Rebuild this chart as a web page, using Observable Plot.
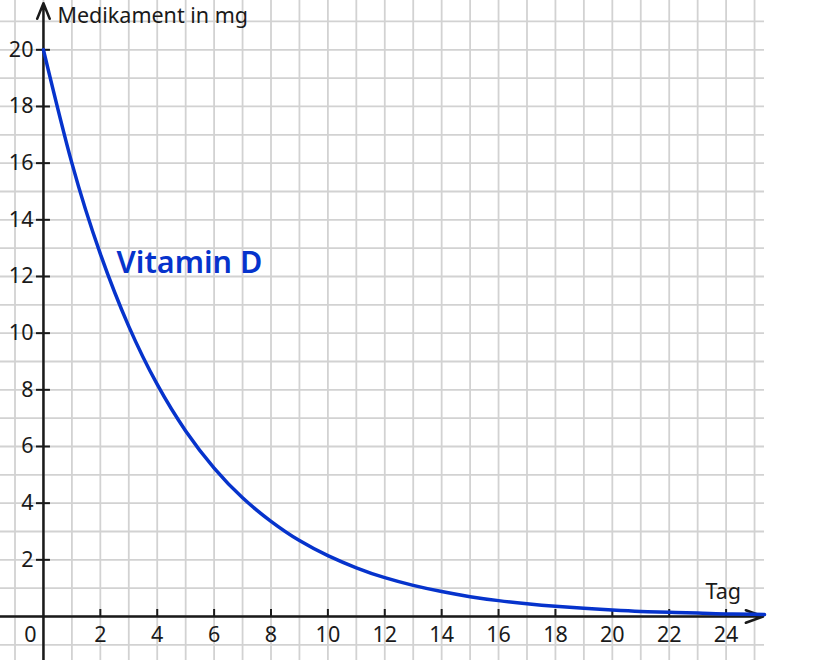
<!DOCTYPE html>
<html><head><meta charset="utf-8">
<script src="https://cdn.jsdelivr.net/npm/d3@7"></script>
<script src="https://cdn.jsdelivr.net/npm/@observablehq/plot@0.6"></script>
<style>body{margin:0;background:#fff}#chart svg{display:block}</style>
</head><body><div id="chart"></div>
<script>
// Data
const days = [0,1,2,3,4,5,6,7,8,9,10,11,12,13,14,15,16,17,18,19,20,21,22,23,24,25,25.35];
const mg   = [20,16,12.8,10.24,8.19,6.55,5.24,4.19,3.36,2.68,2.15,1.72,1.37,1.10,0.88,0.70,0.56,0.45,0.36,0.29,0.23,0.18,0.15,0.12,0.09,0.08,0.07];
const seriesName = "Vitamin D";
const xTickValues = [2,4,6,8,10,12,14,16,18,20,22,24];
const yTickValues = [2,4,6,8,10,12,14,16,18,20];
const gridXValues = [-1,0,1,2,3,4,5,6,7,8,9,10,11,12,13,14,15,16,17,18,19,20,21,22,23,24,25];
const gridYValues = [-1,0,1,2,3,4,5,6,7,8,9,10,11,12,13,14,15,16,17,18,19,20,21];
const xTitle = "Tag";
const yTitle = "Medikament in mg";

const curve = days.map((d, i) => ({day: d, mg: mg[i]}));
const ink = "#1a1a1a";
const blue = "#0633cc";

const chart = Plot.plot({
  width: 840, height: 660,
  marginTop: 0, marginBottom: 0, marginLeft: 0, marginRight: 76,
  x: {domain: [-1.51, 25.35], axis: null},
  y: {domain: [-1.553, 21.74], axis: null},
  style: {fontFamily: "'Noto Sans', sans-serif", fontSize: "21.5px", background: "#fff", color: ink},
  marks: [
    Plot.ruleX(gridXValues, {stroke: "#d2d2d2", strokeWidth: 1.8}),
    Plot.ruleY(gridYValues, {stroke: "#d2d2d2", strokeWidth: 1.8}),
    // axes with arrows
    Plot.arrow([{x1: -1.51, y1: 0, x2: 25.3, y2: 0}], {x1: "x1", y1: "y1", x2: "x2", y2: "y2", stroke: ink, strokeWidth: 2.5, headLength: 11, headAngle: 40}),
    Plot.arrow([{x1: 0, y1: -1.553, x2: 0, y2: 21.64}], {x1: "x1", y1: "y1", x2: "x2", y2: "y2", stroke: ink, strokeWidth: 2.5, headLength: 10, headAngle: 44}),
    // tick marks
    Plot.ruleX(xTickValues, {x: d => d, y1: 0, y2: 0, insetTop: -7, stroke: ink, strokeWidth: 2}),
    Plot.ruleY(yTickValues, {y: d => d, x1: 0, x2: 0, insetLeft: -7, insetRight: -7, stroke: ink, strokeWidth: 2}),
    // tick labels
    Plot.text(xTickValues, {x: d => d, y: 0, dy: 19, text: d => String(d), fill: ink, fontSize: 21.5}),
    Plot.text(yTickValues, {x: 0, y: d => d, dx: -10, text: d => String(d), textAnchor: "end", fill: ink, fontSize: 21.5}),
    Plot.text(["0"], {x: 0, y: 0, dx: -13, dy: 19, text: d => d, fill: ink, fontSize: 21.5}),
    // axis titles
    Plot.text([yTitle], {x: 0, y: 21.2, dx: 14, text: d => d, textAnchor: "start", fill: ink, fontSize: 21.5}),
    Plot.text([xTitle], {x: 23.9, y: 0.85, text: d => d, fill: ink, fontSize: 21.5}),
    // curve
    Plot.line(curve, {x: "day", y: "mg", curve: "natural", stroke: blue, strokeWidth: 3.5}),
    Plot.text([seriesName], {x: 2.57, y: 12.46, text: d => d, textAnchor: "start", fill: blue, fontSize: 30.5, fontWeight: 600})
  ]
});
document.getElementById("chart").append(chart);
</script>
</body></html>
